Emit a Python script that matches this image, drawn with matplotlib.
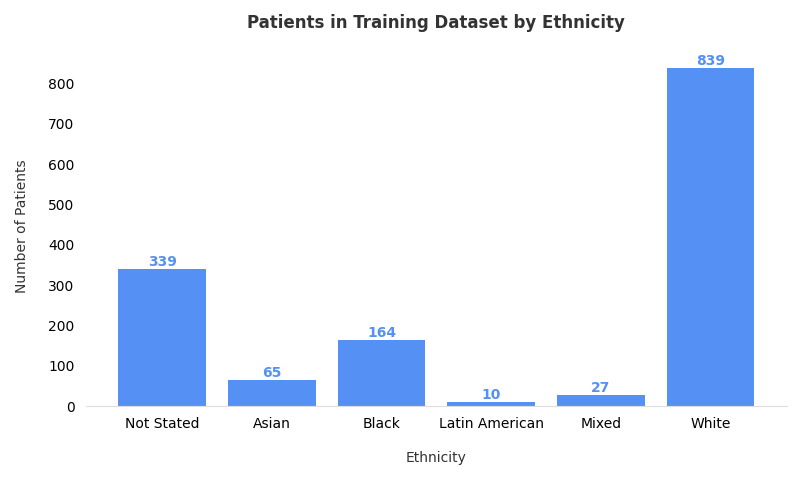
import matplotlib.pyplot as plt
import numpy as np

categories = ['Not Stated', 'Asian', 'Black', 'Latin American', 'Mixed', 'White']
patients = [339, 65, 164, 10, 27, 839]

bar_color = '#5591f5'

fig, ax = plt.subplots(figsize=(8.0, 4.8), dpi=100)
x = np.arange(len(categories))
ax.bar(x, patients, width=0.8, color=bar_color)
for xi, v in zip(x, patients):
    ax.text(xi, v, str(v), ha='center', va='bottom', color=bar_color,
            fontweight='bold', fontsize=10, linespacing=1)

ax.set_xticks(x, categories)
ax.set_yticks(range(0, 801, 100))
ax.set_xlim(-0.7, 5.7)
ax.set_ylim(0, 890)
ax.tick_params(length=0, pad=8)
for s in ['top', 'right', 'left']:
    ax.spines[s].set_visible(False)
ax.spines['bottom'].set_color('#dddddd')
ax.set_title('Patients in Training Dataset by Ethnicity', fontsize=12,
             fontweight='bold', color='#333333', pad=14)
ax.set_xlabel('Ethnicity', color='#333333', labelpad=14)
ax.set_ylabel('Number of Patients', color='#333333', labelpad=14)
plt.subplots_adjust(left=0.107, right=0.984, top=0.902, bottom=0.154)
plt.savefig('out.png')
